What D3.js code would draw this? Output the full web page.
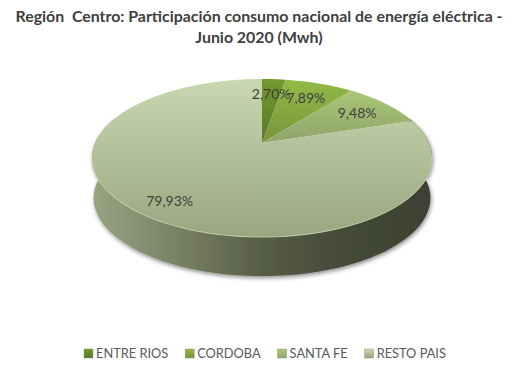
<!DOCTYPE html>
<html>
<head>
<meta charset="utf-8">
<script src="https://cdn.jsdelivr.net/npm/d3@7"></script>
<style>
  html, body { margin: 0; padding: 0; background: #fff; }
  svg { display: block; }
  text { font-family: Lato, "Open Sans", sans-serif; }
</style>
</head>
<body>
<div id="chart"></div>
<script>
// Chart data
const titleLines = ["Región  Centro: Participación consumo nacional de energía eléctrica -", "Junio 2020 (Mwh)"];
const provinces = ["ENTRE RIOS", "CORDOBA", "SANTA FE", "RESTO PAIS"];
const shares = [2.70, 7.89, 9.48, 79.93];
const shareLabels = ["2,70%", "7,89%", "9,48%", "79,93%"];

// Colours per slice, far edge to near edge
const sliceTop = ["#72982f", "#93bb47", "#afcc76", "#c9d8b1"];
const sliceBottom = ["#5b7a2a", "#78933a", "#8fa56c", "#99a680"];
const labelRadius = [0.74, 0.73, 0.75, 0.82];

const width = 531;
const height = 374;
const cx = 262;
const cy = 143;

// Tilted disc seen in perspective: near side is drawn bigger than far side
const rimX = 167;
const rimY = 76.2;
const tilt = 0.19;
const depth = 40;
const bottomScale = 0.99;

function project(angle, r, drop, scale) {
  const u = r * Math.sin(angle);
  const v = -r * Math.cos(angle);
  const w = 1 - tilt * v;
  return [cx + scale * rimX * u / w, cy + drop + scale * rimY * v / w];
}

const svg = d3.select("#chart")
  .append("svg")
    .attr("width", width)
    .attr("height", height)
    .attr("viewBox", [0, 0, width, height]);

const defs = svg.append("defs");

const soft = defs.append("filter").attr("id", "soft")
    .attr("x", "-5%").attr("y", "-5%").attr("width", "110%").attr("height", "115%");
soft.append("feDropShadow")
    .attr("dx", 1).attr("dy", 2).attr("stdDeviation", 2)
    .attr("flood-color", "#000").attr("flood-opacity", 0.45);

const sideGrad = defs.append("linearGradient").attr("id", "side")
    .attr("gradientUnits", "userSpaceOnUse")
    .attr("x1", cx - rimX).attr("x2", cx + rimX * 1.02).attr("y1", 0).attr("y2", 0);
[[0, "#98a382"], [0.15, "#858e6f"], [0.5, "#575d46"], [0.75, "#444937"], [1, "#3c4130"]]
  .forEach(([o, c]) => sideGrad.append("stop").attr("offset", o).attr("stop-color", c));

shares.forEach((d, i) => {
  const g = defs.append("linearGradient").attr("id", "slice" + i)
      .attr("gradientUnits", "userSpaceOnUse")
      .attr("x1", 0).attr("x2", 0)
      .attr("y1", cy - 64)
      .attr("y2", i === 3 ? cy + 94 : cy);
  g.append("stop").attr("offset", 0).attr("stop-color", sliceTop[i]);
  g.append("stop").attr("offset", 1).attr("stop-color", sliceBottom[i]);

  const m = defs.append("linearGradient").attr("id", "marker" + i)
      .attr("x1", 0).attr("x2", 0).attr("y1", 0).attr("y2", 1);
  m.append("stop").attr("offset", 0).attr("stop-color", sliceTop[i]);
  m.append("stop").attr("offset", 1).attr("stop-color", sliceBottom[i]);
});

// Title
svg.append("g")
  .selectAll("text")
  .data(titleLines)
  .join("text")
    .attr("x", 259)
    .attr("y", (d, i) => 22 + i * 21)
    .attr("text-anchor", "middle")
    .attr("font-size", 15.9)
    .attr("font-weight", 700)
    .attr("fill", "#404040")
    .style("white-space", "pre")
    .text(d => d);

const pie = d3.pie().sort(null).value(d => d)(shares);
const line = d3.line();

// Side wall, only the near half shows
const sideAngles = d3.range(70, 291, 2).map(d => d * Math.PI / 180);
svg.append("path")
    .attr("d", line([
      ...sideAngles.map(a => project(a, 1, 0, 1)),
      ...sideAngles.slice().reverse().map(a => project(a, 1, depth, bottomScale))
    ]) + "Z")
    .attr("fill", "url(#side)")
    .attr("filter", "url(#soft)");

// Top slices
svg.append("g")
  .selectAll("path")
  .data(pie)
  .join("path")
    .attr("fill", (d, i) => `url(#slice${i})`)
    .attr("d", d => {
      const steps = Math.max(4, Math.ceil((d.endAngle - d.startAngle) / 0.02));
      const pts = d3.range(steps + 1).map(k =>
        project(d.startAngle + (d.endAngle - d.startAngle) * k / steps, 1, 0, 1));
      return line([[cx, cy], ...pts]) + "Z";
    });

// Light rim along the near edge
const rimAngles = d3.range(100, 261, 2).map(d => d * Math.PI / 180);
svg.append("path")
    .attr("d", line(rimAngles.map(a => project(a, 1, 0, 1))))
    .attr("fill", "none")
    .attr("stroke", "#c9d3b4")
    .attr("stroke-width", 0.8);

// Slice labels
svg.append("g")
  .selectAll("text")
  .data(pie)
  .join("text")
    .attr("transform", (d, i) => {
      const p = project((d.startAngle + d.endAngle) / 2, labelRadius[i], 0, 1);
      return `translate(${p[0]},${p[1]})`;
    })
    .attr("text-anchor", "middle")
    .attr("dy", "0.35em")
    .attr("font-size", 14)
    .attr("fill", "#404040")
    .text((d, i) => shareLabels[i]);

// Legend, laid out left to right from the measured text widths
const legend = svg.append("g");
let legendX = 84;
provinces.forEach((name, i) => {
  legend.append("rect")
      .attr("x", legendX).attr("y", 349)
      .attr("width", 9).attr("height", 9)
      .attr("fill", `url(#marker${i})`)
      .attr("stroke", "#7f8a6a").attr("stroke-width", 0.4);
  const t = legend.append("text")
      .attr("x", legendX + 12).attr("y", 358)
      .attr("font-size", 12.8)
      .attr("fill", "#595959")
      .text(name);
  legendX += 12 + t.node().getComputedTextLength() + 17;
});
</script>
</body>
</html>
